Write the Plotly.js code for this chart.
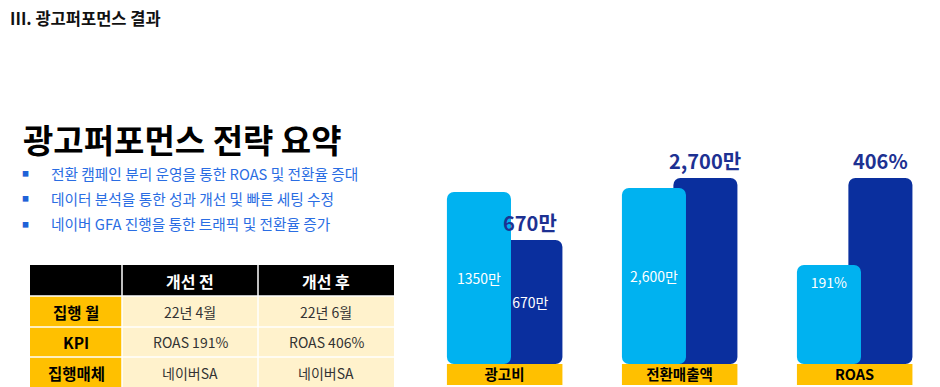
<!DOCTYPE html>
<html><head><meta charset="utf-8">
<script src="https://cdn.plot.ly/plotly-3.0.1.min.js"></script>
<style>html,body{margin:0;padding:0;background:#fff;} #chart{width:940px;height:387px;}</style>
</head><body><div id="chart"></div>
<script>
// ---- data ----
const categories = ['광고비', '전환매출액', 'ROAS'];
const beforeValues = [1350, 2600, 191];
const afterValues = [670, 2700, 406];
const beforeLabels = ['1350만', '2,600만', '191%'];
const afterLabels = ['670만', '2,700만', '406%'];
const afterInsideLabels = ['670만', '', ''];

const pageTitle = 'III. 광고퍼포먼스 결과';
const summaryTitle = '광고퍼포먼스 전략 요약';
const bullets = [
  '전환 캠페인 분리 운영을 통한 ROAS 및 전환율 증대',
  '데이터 분석을 통한 성과 개선 및 빠른 세팅 수정',
  '네이버 GFA 진행을 통한 트래픽 및 전환율 증가'
];

const tableHeader = ['', '개선 전', '개선 후'];
const rowLabels = ['집행 월', 'KPI', '집행매체'];
const beforeColumn = ['22년 4월', 'ROAS 191%', '네이버SA'];
const afterColumn = ['22년 6월', 'ROAS 406%', '네이버SA'];

// ---- style / layout ----
const W = 940, H = 387;
const FONT = 'Noto Sans CJK KR, Noto Sans, sans-serif';
const LIGHT = '#00b2f0', DARK = '#0a2f9e', LABELBLUE = '#1d3192', YELLOW = '#ffc000', CREAM = '#fff2cc';
const axisRanges = [[-1087, 2086], [840, 3080], [-54, 500]]; // each group scaled on its own axis
const barWidth = 0.366, lightOffset = -0.329, darkOffset = -0.035;
const lightAnchor = ['middle', 'middle', 'end'];
const px = x => x / W, py = y => 1 - y / H;
const yName = i => (i === 0 ? 'y' : 'y' + (i + 1));

const traces = [];
const shapes = [];
const annotations = [];
const ann = o => annotations.push(Object.assign({xref: 'paper', yref: 'paper', showarrow: false}, o));

categories.forEach((c, i) => {
  const base = axisRanges[i][0];
  const common = {type: 'bar', x: [i], width: [barWidth], yaxis: yName(i), cliponaxis: false,
                  hoverinfo: 'skip', showlegend: false};
  // after (dark), behind
  traces.push(Object.assign({}, common, {
    y: [afterValues[i] - base], base: [base], offset: [darkOffset],
    marker: {color: DARK, cornerradius: 7, line: {width: 0}}
  }));
  // before (light), in front
  traces.push(Object.assign({}, common, {
    y: [beforeValues[i] - base], base: [base], offset: [lightOffset],
    marker: {color: LIGHT, cornerradius: 7, line: {width: 0}},
    text: [beforeLabels[i]], textposition: 'inside', insidetextanchor: lightAnchor[i],
    insidetextfont: {family: FONT, size: 14, color: '#ffffff'}
  }));
});
// labels inside the dark bars, drawn on top through a transparent copy
categories.forEach((c, i) => {
  const base = axisRanges[i][0];
  traces.push({type: 'bar', x: [i], width: [barWidth], yaxis: yName(i), cliponaxis: false,
    hoverinfo: 'skip', showlegend: false,
    y: [afterValues[i] - base], base: [base], offset: [darkOffset],
    marker: {color: 'rgba(0,0,0,0)', line: {width: 0}},
    text: [afterInsideLabels[i]], textposition: 'inside', insidetextanchor: 'middle',
    insidetextfont: {family: FONT, size: 14, color: '#ffffff'}});
  // value label above the dark bar
  annotations.push({xref: 'x', yref: yName(i), x: i + darkOffset + barWidth / 2, y: afterValues[i],
    xanchor: 'center', yanchor: 'bottom', yshift: 1, showarrow: false,
    text: '<b>' + afterLabels[i] + '</b>', font: {family: FONT, size: 20, color: LABELBLUE}});
  // yellow band under the pair
  shapes.push({type: 'rect', xref: 'x', yref: 'paper', layer: 'below',
    x0: i + lightOffset, x1: i + darkOffset + barWidth, y0: py(385), y1: py(364),
    fillcolor: YELLOW, line: {width: 0}});
});

// ---- table built from shapes and texts ----
const colX = [30, 122, 258, 394];
const rowY = [265, 296, 327, 357, 388];
const tableRows = [tableHeader].concat(rowLabels.map((r, k) => [r, beforeColumn[k], afterColumn[k]]));
tableRows.forEach((row, r) => {
  row.forEach((val, c) => {
    const fill = r === 0 ? '#000000' : (c === 0 ? YELLOW : CREAM);
    shapes.push({type: 'rect', xref: 'paper', yref: 'paper', layer: 'below',
      x0: px(colX[c] + (c ? 0.75 : 0)), x1: px(colX[c + 1] - (c < 2 ? 0.75 : 0)),
      y0: py(rowY[r + 1] - 0.75), y1: py(rowY[r] + (r ? 0.75 : 0)),
      fillcolor: fill, line: {width: 0}});
    if (!val) return;
    const isHead = r === 0, isLabel = c === 0;
    ann({text: (isHead || isLabel) ? '<b>' + val + '</b>' : val,
      x: px((colX[c] + colX[c + 1]) / 2), y: py((rowY[r] + rowY[r + 1]) / 2),
      xanchor: 'center', yanchor: 'middle',
      font: {family: FONT, size: isHead ? 16 : (isLabel ? 15.5 : 14),
             color: isHead ? '#ffffff' : (isLabel ? '#000000' : '#333333')}});
  });
});

// ---- left texts ----
ann({text: pageTitle, x: px(8), y: py(18), xanchor: 'left', yanchor: 'middle',
  font: {family: FONT, size: 16.5, color: '#111', weight: 600}});
ann({text: '<b>' + summaryTitle + '</b>', x: px(21), y: py(139), xanchor: 'left', yanchor: 'middle',
  font: {family: FONT, size: 33, color: '#000'}});
const bulletY = [173, 198, 224];
bullets.forEach((b, k) => {
  ann({text: '■', x: px(25), y: py(bulletY[k]), xanchor: 'center', yanchor: 'middle',
    font: {family: FONT, size: 7, color: '#1f62d8'}});
  ann({text: b, x: px(49), y: py(bulletY[k]), xanchor: 'left', yanchor: 'middle',
    font: {family: FONT, size: 14.7, color: '#2a6de3'}});
});

const hiddenY = r => ({range: r, visible: false, fixedrange: true});
const layout = {
  width: W, height: H, margin: {l: 0, r: 0, t: 0, b: 0},
  paper_bgcolor: '#ffffff', plot_bgcolor: 'rgba(0,0,0,0)',
  barmode: 'overlay', showlegend: false,
  font: {family: FONT},
  xaxis: {domain: [px(417), 1], range: [-0.5, -0.5 + 523 / 175], tickvals: [0, 1, 2], ticktext: categories,
          showgrid: false, zeroline: false, showline: false, ticks: '',
          tickfont: {family: FONT, size: 14.5, color: '#000', weight: 700}, fixedrange: true},
  yaxis: Object.assign(hiddenY(axisRanges[0]), {domain: [py(364), py(140)]}),
  yaxis2: Object.assign(hiddenY(axisRanges[1]), {overlaying: 'y'}),
  yaxis3: Object.assign(hiddenY(axisRanges[2]), {overlaying: 'y'}),
  shapes: shapes, annotations: annotations
};
Plotly.newPlot('chart', traces, layout, {displayModeBar: false, staticPlot: true});
</script>
</body></html>
